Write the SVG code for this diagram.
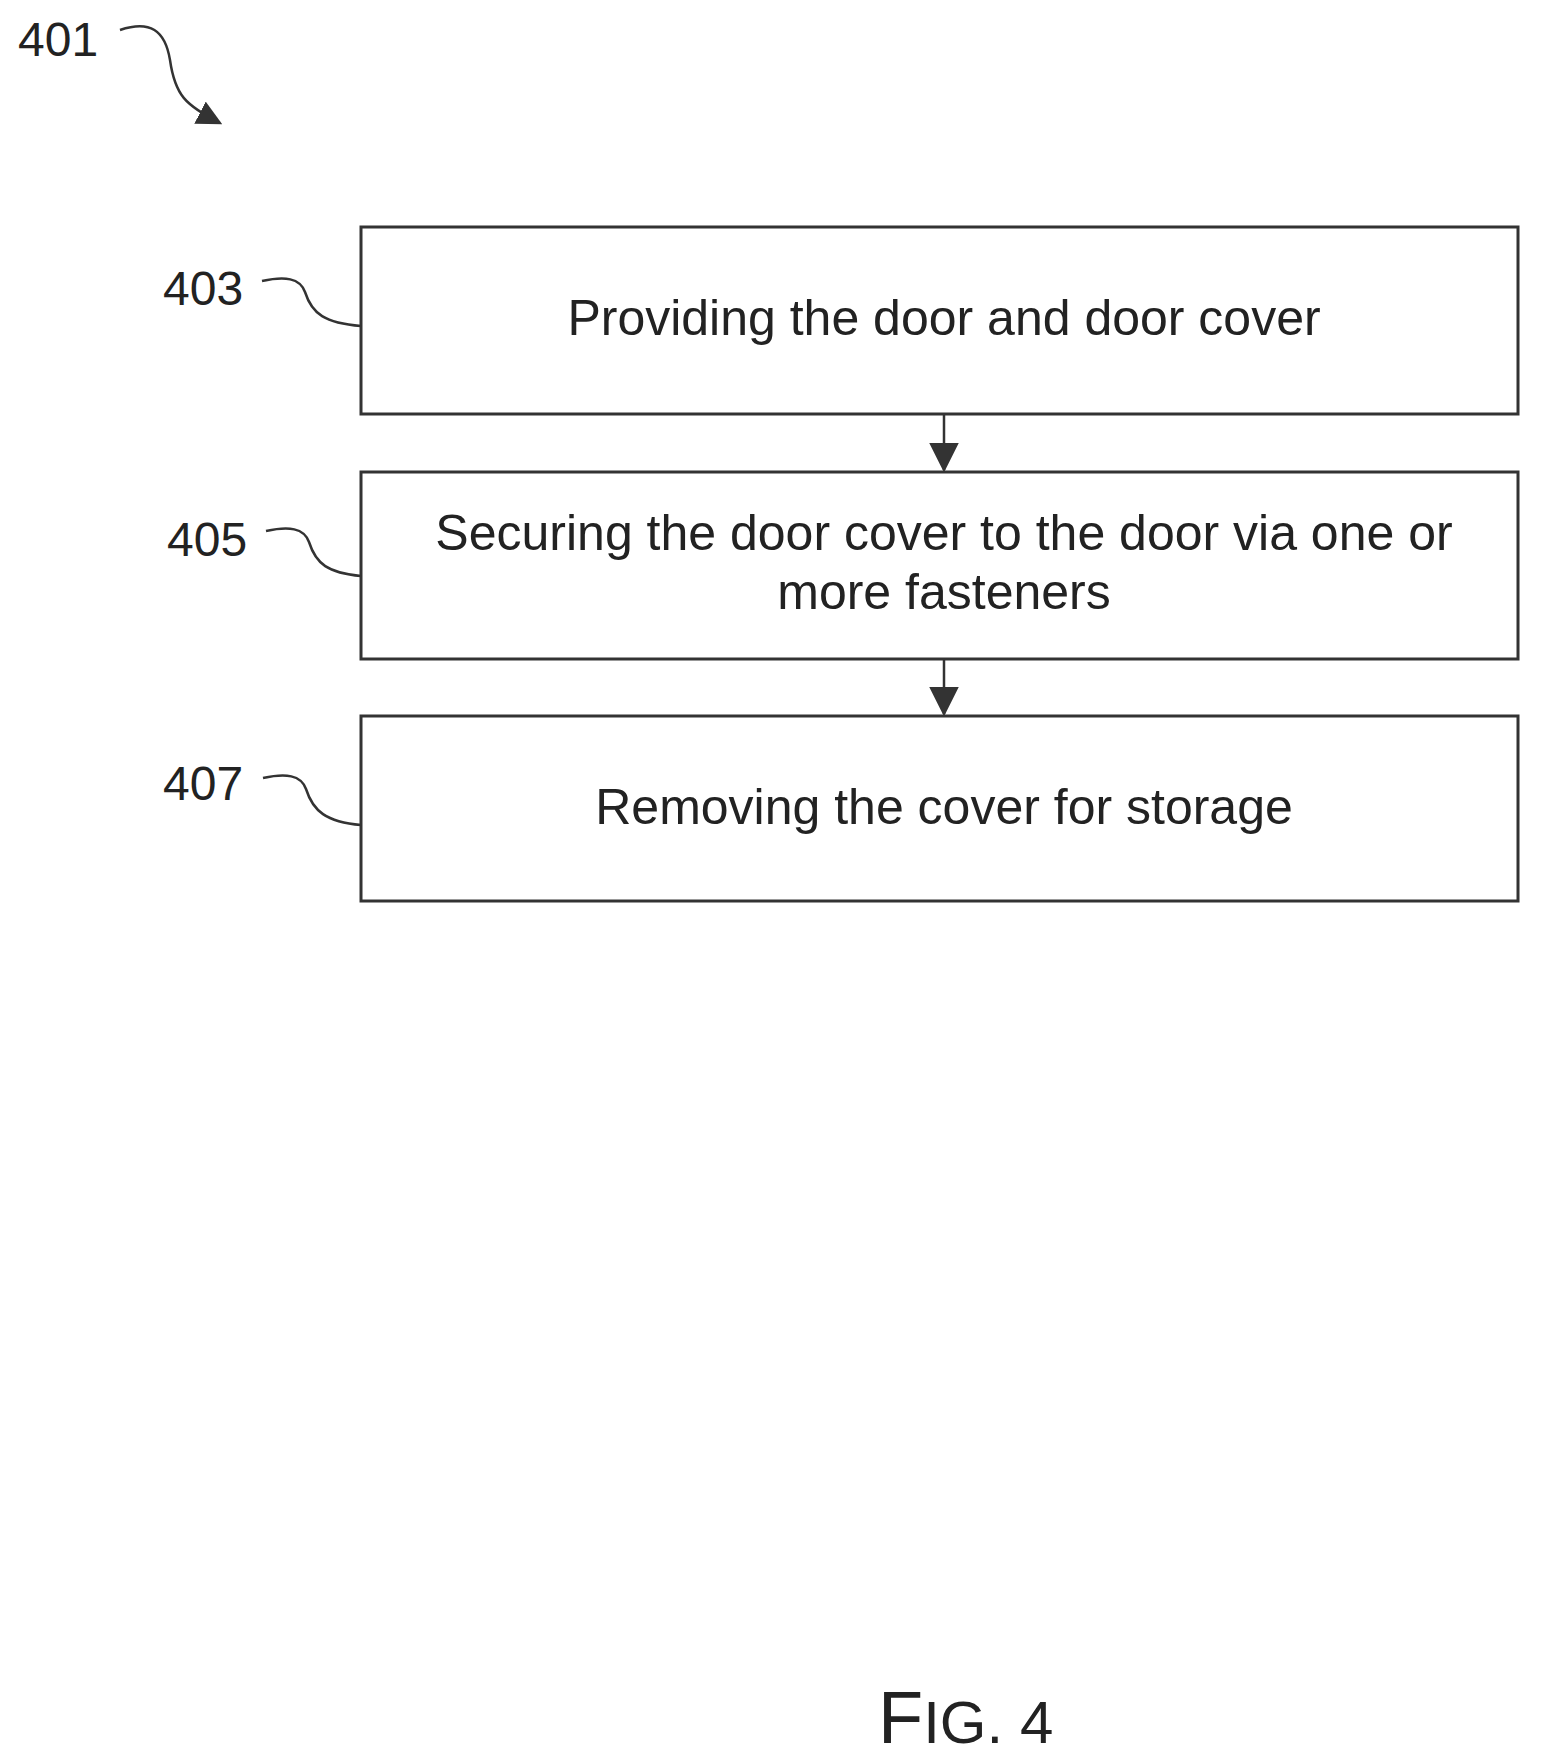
<svg xmlns="http://www.w3.org/2000/svg" width="1549" height="1764" viewBox="0 0 1549 1764">
<style>
.t{font-family:"Liberation Sans",Arial,sans-serif;fill:#222;}
.box{fill:#fff;stroke:#333;stroke-width:3;}
.ln{fill:none;stroke:#333;stroke-width:2.5;}
</style>
<defs>
<marker id="ah" markerWidth="12" markerHeight="12" refX="11" refY="6" orient="auto" markerUnits="strokeWidth"><path d="M0,0 L12,6 L0,12 z" fill="#333"/></marker>
<marker id="ah2" markerWidth="10" markerHeight="10" refX="9" refY="5" orient="auto" markerUnits="strokeWidth"><path d="M0,0 L10,5 L0,10 z" fill="#333"/></marker>
</defs>
<rect width="1549" height="1764" fill="#fff"/>
<g id="connectors">
<path class="ln" d="M944,414 L944,470" marker-end="url(#ah)"/>
<path class="ln" d="M944,659 L944,714" marker-end="url(#ah)"/>
<path class="ln" d="M120,30 C150,20 165,30 170,60 C175,95 185,105 220,123" marker-end="url(#ah2)"/>
<path class="ln" d="M262,281 C285,276 300,278 305,292 C312,314 325,323 361,326"/>
<path class="ln" d="M266,531 C289,526 304,528 309,542 C316,564 328,573 361,576"/>
<path class="ln" d="M263,778 C286,773 301,775 306,789 C313,811 326,822 361,825"/>
</g>
<g id="n403">
<rect class="box" x="361" y="227" width="1157" height="187" transform="translate(0,0)" style="width:1157px"/>
<text class="t" x="944" y="335" font-size="50" text-anchor="middle">Providing the door and door cover</text>
<text class="t" x="163" y="305" font-size="48">403</text>
</g>
<g id="n405">
<rect class="box" x="361" y="472" width="1157" height="187"/>
<text class="t" x="944" y="550" font-size="50" text-anchor="middle">Securing the door cover to the door via one or</text>
<text class="t" x="944" y="609" font-size="50" text-anchor="middle">more fasteners</text>
<text class="t" x="167" y="556" font-size="48">405</text>
</g>
<g id="n407">
<rect class="box" x="361" y="716" width="1157" height="185"/>
<text class="t" x="944" y="824" font-size="50" text-anchor="middle">Removing the cover for storage</text>
<text class="t" x="163" y="800" font-size="48">407</text>
</g>
<g id="n401">
<text class="t" x="18" y="56" font-size="48">401</text>
</g>
<g id="fig">
<text class="t" x="878" y="1743"><tspan font-size="74">F</tspan><tspan font-size="60">IG. 4</tspan></text>
</g>
</svg>
